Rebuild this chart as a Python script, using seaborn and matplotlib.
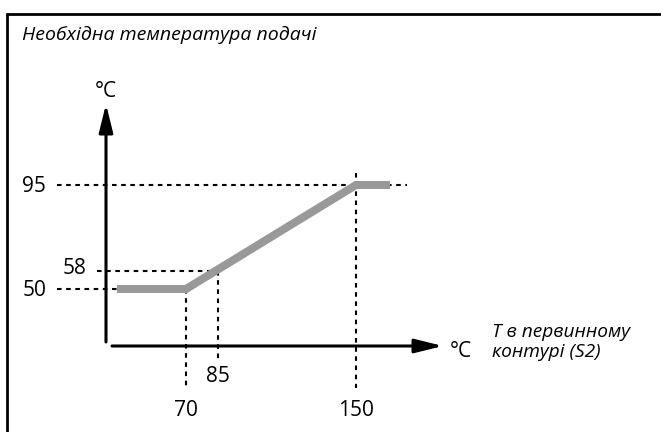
import matplotlib
matplotlib.use("Agg")
import matplotlib.pyplot as plt
from matplotlib.lines import Line2D
import pandas as pd
import seaborn as sns

# ── Data ──────────────────────────────────────────────────────
curve_x = [37.5, 70, 150, 166]        # T primary (S2), °C
curve_y = [50, 50, 95, 95]            # required flow temperature, °C
ref_x = [70, 85, 150]                 # marked x points
ref_y = [50, 58, 95]                  # marked y points
x_ticklabels = ["70", "85", "150"]
y_ticklabels = ["50", "58", "95"]

title = "Необхідна температура подачі"
xlabel = "T в первинному\nконтурі (S2)"
unit = "°C"

# ── Style ─────────────────────────────────────────────────────
sns.set_style("white")
plt.rcParams["font.family"] = ["Open Sans", "DejaVu Sans"]
plt.rcParams["text.color"] = "black"

# pixel <-> data mapping (figure is 661 x 432 px)
X0, XS = 70, 2.125     # x=70 at px 186, 2.125 px per °C
Y0, YS = 50, 2.3111    # y=50 at py 289
def px2x(px):
    return X0 + (px - 186) / XS
def py2y(py):
    return Y0 - (py - 289) / YS

fig = plt.figure(figsize=(6.61, 4.32), dpi=100)
ax = fig.add_axes([0, 0, 1, 1])
ax.set_xlim(px2x(0), px2x(661))
ax.set_ylim(py2y(432), py2y(0))
ax.axis("off")

# frame (top + left only)
fig.add_artist(Line2D([7 / 661, 1], [1 - 14 / 432] * 2, color="black", lw=2.0,
                      transform=fig.transFigure))
fig.add_artist(Line2D([7 / 661] * 2, [0, 1 - 14 / 432], color="black", lw=2.0,
                      transform=fig.transFigure))

# dashed guide lines
dash = dict(color="black", lw=1.5, dashes=(2.2, 2.2))
x_left = px2x(57)
ax.plot([x_left, px2x(407)], [ref_y[2]] * 2, **dash)
ax.plot([px2x(97), ref_x[1]], [ref_y[1]] * 2, **dash)
ax.plot([x_left, curve_x[0]], [ref_y[0]] * 2, **dash)
ax.plot([ref_x[0]] * 2, [ref_y[0], py2y(388)], **dash)
ax.plot([ref_x[1]] * 2, [ref_y[1], py2y(360)], **dash)
ax.plot([ref_x[2]] * 2, [py2y(173), py2y(388)], **dash)

# axes with arrows
arrow = dict(arrowstyle="-|>,head_length=1.7,head_width=0.42", color="black",
             lw=2.2, shrinkA=0, shrinkB=0, mutation_scale=10)
ax.annotate("", xy=(px2x(106), py2y(104)), xytext=(px2x(106), py2y(342)),
            arrowprops=arrow)
ax.annotate("", xy=(px2x(443), py2y(346)), xytext=(px2x(112), py2y(346)),
            arrowprops=arrow)

# the curve
df = pd.DataFrame({"x": curve_x, "y": curve_y})
sns.lineplot(data=df, x="x", y="y", ax=ax, color="#999999", lw=5.8,
             sort=False, solid_capstyle="butt", solid_joinstyle="miter")

# tick labels
fs = 15
ax.text(px2x(46), py2y(192.5), y_ticklabels[2], ha="right", va="baseline", fontsize=fs)
ax.text(px2x(86), py2y(274.5), y_ticklabels[1], ha="right", va="baseline", fontsize=fs)
ax.text(px2x(46), py2y(296.5), y_ticklabels[0], ha="right", va="baseline", fontsize=fs)
ax.text(ref_x[1], py2y(382), x_ticklabels[1], ha="center", va="baseline", fontsize=fs)
ax.text(ref_x[0], py2y(416), x_ticklabels[0], ha="center", va="baseline", fontsize=fs)
ax.text(ref_x[2], py2y(416), x_ticklabels[2], ha="center", va="baseline", fontsize=fs)

# units and labels
ax.text(px2x(95), py2y(97), unit, ha="left", va="baseline", fontsize=fs)
ax.text(px2x(450), py2y(357), unit, ha="left", va="baseline", fontsize=fs)
ax.text(px2x(492), py2y(357), xlabel, ha="left", va="baseline", fontsize=13.8,
        style="italic", linespacing=1.15)
ax.text(px2x(22), py2y(40), title, ha="left", va="baseline", fontsize=14,
        style="italic")

fig.savefig("out.png", dpi=100)
